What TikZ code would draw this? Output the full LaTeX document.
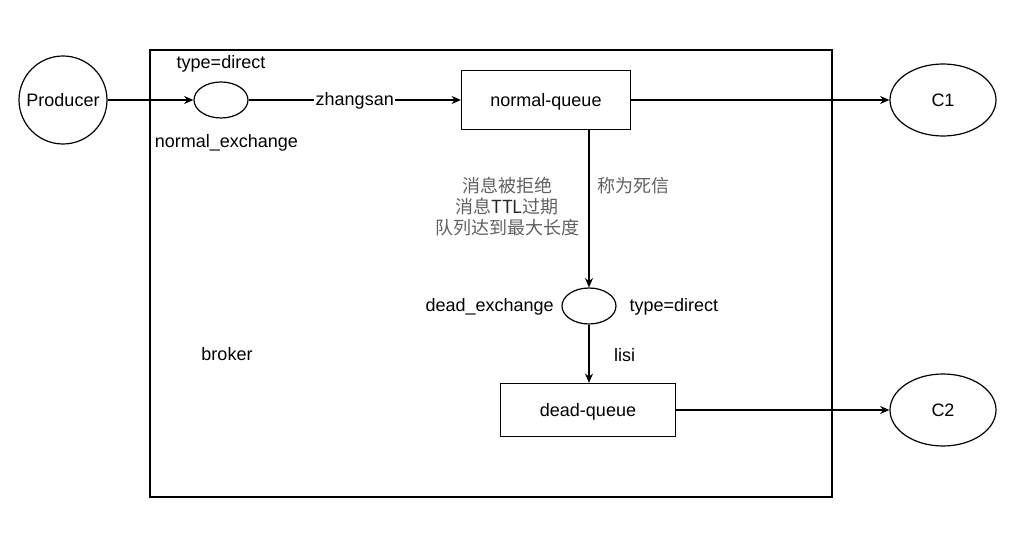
\documentclass[tikz,border=0pt]{standalone}
\usepackage{fontspec}
\setmainfont{Liberation Sans}
\newfontfamily\cjk{Noto Sans CJK SC}
\usetikzlibrary{arrows.meta}
\usetikzlibrary{positioning, shapes.geometric}

\begin{document}
\begin{tikzpicture}[
			x=0.75pt, y=-0.75pt,
			line width=0.9pt,
			every node/.style={font=\fontsize{13.5}{15.75}\selectfont},
			queue/.style={rectangle, draw, inner sep=0pt, text depth=0pt},
			exch/.style={ellipse, draw, minimum width=40.5pt, minimum height=27pt, inner sep=0pt},
			arrow/.style={-{Stealth[length=7pt, width=6pt]}},
			cn/.style={font=\fontsize{13.5}{15.75}\selectfont\cjk, text=black!62}
		]
		\useasboundingbox (0,0) rectangle (1022,552);

		% broker frame
		\draw (150,50) rectangle (832,497);
		\node (broker) at (227,354) {broker};

		% producer and normal side
		\node[circle, draw, minimum size=66pt, inner sep=0pt, text depth=0pt] (prod) at (63,100) {Producer};
		\node[exch] (nex) at (221,100) {};
		\node[above=3pt of nex] (nextype) {type=direct};
		\node[below=8pt of nex, xshift=4pt] (nexname) {normal\_exchange};
		\node[queue, minimum width=126.75pt, minimum height=44.25pt] (nq) at (546,100) {normal-queue};
		\node[ellipse, draw, minimum width=79.5pt, minimum height=54pt, inner sep=0pt, text depth=0pt] (c1) at (943,100) {C1};

		% dead side
		\node[exch] (dex) at (589,306) {};
		\node[left=2pt of dex, yshift=-1pt] (dexname) {dead\_exchange};
		\node[right=6pt of dex, yshift=-1pt] (dextype) {type=direct};
		\node[queue, minimum width=131.25pt, minimum height=39.75pt] (dq) at (588,410) {dead-queue};
		\node[ellipse, draw, minimum width=79.5pt, minimum height=54pt, inner sep=0pt, text depth=0pt] (c2) at (943,410) {C2};

		% reasons
		\node[cn, align=center] (why) at (507,207) {消息被拒绝\\消息{\color{black!85}TTL}过期\\队列达到最大长度};
		\node[cn] (dead) at (633,186) {称为死信};

		% connectors
		\draw[arrow] (prod) -- (nex);
		\draw[arrow] (nex) -- node[fill=white, inner sep=1pt, yshift=-1pt] (rk1) {zhangsan} (nq);
		\draw[arrow] (nq) -- (c1);
		\draw[arrow] (nq.south -| dex.north) -- (dex.north);
		\draw[arrow] (dex) -- node[right=15pt, yshift=-1pt] (rk2) {lisi} (dex |- dq.north);
		\draw[arrow] (dq) -- (c2);

	\end{tikzpicture}
\end{document}
